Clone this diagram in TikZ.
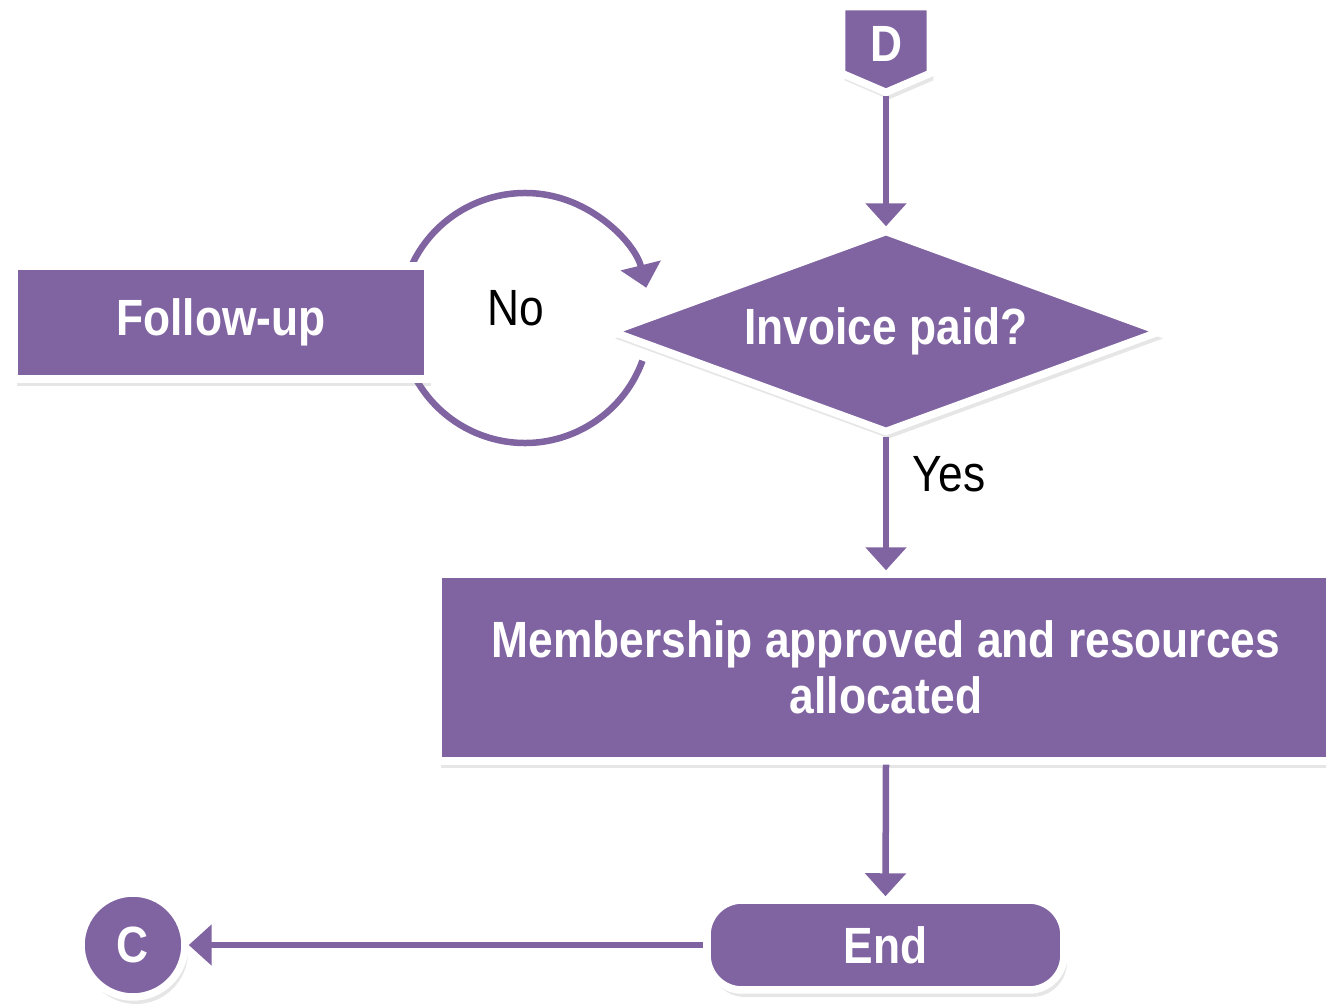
\documentclass[tikz,border=0pt]{standalone}
\usepackage{fontspec}
\setmainfont[FakeStretch=0.87]{Liberation Sans}
\usetikzlibrary{shapes,positioning,arrows.meta,calc,shadows}
\usepackage{xcolor}
\definecolor{flowpurple}{HTML}{8064A2}

\begin{document}
\begin{tikzpicture}[x=0.02cm, y=-0.02cm]

	\tikzstyle{purplebox}=[draw=white, line width=0.15cm, fill=flowpurple, text=white, font=\fontsize{29}{32}\selectfont\bfseries, drop shadow={shadow xshift=0.06cm, shadow yshift=-0.14cm, opacity=0.2}];
	\tikzstyle{stdrect}=[purplebox, rectangle, inner sep=0pt];
	\tikzstyle{flow}=[draw=flowpurple, line width=0.13cm];
	\tikzstyle{lbl}=[font=\fontsize{29}{32}\selectfont, text=black];

	\useasboundingbox (0,0) rectangle (1326,1007);

    \begin{scope}[>={Triangle[length=0.46cm, width=0.8cm]}]

    	\node (d_page) at (886,49.5) [minimum width=1.76cm, minimum height=1.7cm]{};
    	\path[purplebox] (d_page.north west) -- (d_page.north east) -- ($(d_page.south east)+(0,-19)$) -- (d_page.south) -- ($(d_page.south west)+(0,-19)$) -- cycle;
    	\node (d_text) at (886,44) [text=white, font=\fontsize{29}{32}\selectfont\bfseries]{D};
    	\node (invoice_paid) at (886,331.5) [purplebox, diamond, aspect=2.7, inner sep=0pt, minimum width=11.02cm, minimum height=4.06cm]{Invoice paid?};
    	\node (approved) at (886,667.5) [stdrect, minimum width=17.92cm, minimum height=3.74cm, align=center]{Membership approved and resources\\allocated};
    	\node (end_node) at (885.5,945) [purplebox, rectangle, rounded corners=0.7cm, minimum width=7.14cm, minimum height=1.8cm]{End};
    	\node (c_page) at (133,945) [purplebox, circle, minimum size=2.08cm, inner sep=0pt]{C};

    	\coordinate (loop) at (525,318);
    	\draw[flow, ->] ([shift={(160:2.5cm)}]loop) arc[start angle=160, end angle=14, radius=2.5cm];
    	\draw[flow] ([shift={(-20:2.5cm)}]loop) arc[start angle=-20, end angle=-160, radius=2.5cm];
    	\node (follow_up) at (221,322.5) [stdrect, minimum width=8.28cm, minimum height=2.26cm]{Follow-up};

    	\node (no_lbl) at (516,308) [lbl]{No};
    	\node (yes_lbl) at (949,474) [lbl]{Yes};

    	\draw[flow, ->, shorten <=0.08cm] (d_page.south) -- (invoice_paid.north);
    	\draw[flow, ->] (invoice_paid.south) -- (approved.north);
    	\draw[flow, ->] (approved.south) -- (end_node.north);
    	\draw[flow, ->] (end_node.west) -- (c_page.east);

    \end{scope}
\end{tikzpicture}
\end{document}
